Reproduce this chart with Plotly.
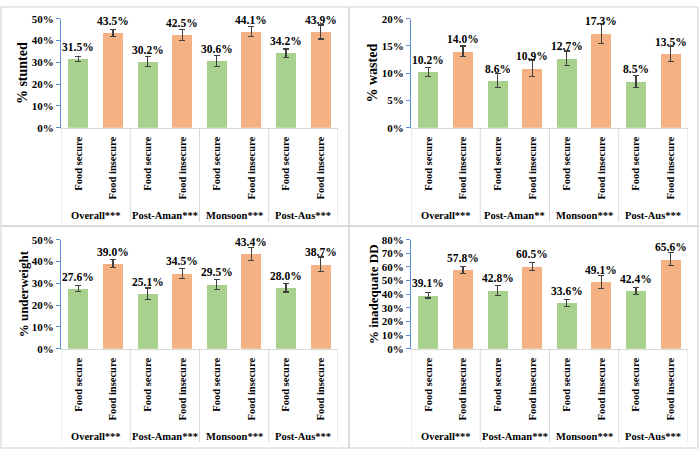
import plotly.graph_objects as go

# ---------------- data ----------------
sub_labels = ["Food secure", "Food insecure"]

stunted_groups = ["Overall***", "Post-Aman***", "Monsoon***", "Post-Aus***"]
stunted_secure = [31.5, 30.2, 30.6, 34.2]
stunted_insecure = [43.5, 42.5, 44.1, 43.9]
stunted_secure_err = [1.3, 2.3, 2.4, 1.9]
stunted_insecure_err = [1.7, 2.4, 2.3, 3.2]

wasted_groups = ["Overall***", "Post-Aman**", "Monsoon***", "Post-Aus***"]
wasted_secure = [10.2, 8.6, 12.7, 8.5]
wasted_insecure = [14.0, 10.9, 17.3, 13.5]
wasted_secure_err = [0.8, 1.3, 1.35, 1.1]
wasted_insecure_err = [1.0, 1.5, 1.8, 1.4]

underweight_groups = ["Overall***", "Post-Aman***", "Monsoon***", "Post-Aus***"]
underweight_secure = [27.6, 25.1, 29.5, 28.0]
underweight_insecure = [39.0, 34.5, 43.4, 38.7]
underweight_secure_err = [1.3, 2.7, 2.2, 2.0]
underweight_insecure_err = [1.8, 2.3, 3.0, 3.4]

dd_groups = ["Overall***", "Post-Aman***", "Monsoon***", "Post-Aus***"]
dd_secure = [39.1, 42.8, 33.6, 42.4]
dd_insecure = [57.8, 60.5, 49.1, 65.6]
dd_secure_err = [1.9, 3.7, 2.7, 2.5]
dd_insecure_err = [2.4, 3.0, 4.8, 4.8]

y_titles = ["% stunted", "% wasted", "% underweight", "% inadequate DD"]
y_max = [50, 20, 50, 80]
y_dtick = [10, 5, 10, 10]

# ---------------- styling ----------------
W, H = 700, 455
FONT = "Liberation Serif"
GREEN = "#A9D18E"
ORANGE = "#F4B183"
AXIS_BLUE = "#5B8FD9"
GRID_GRAY = "#D9D9D9"
ERR = "#404040"

panels = [
    (stunted_groups, stunted_secure, stunted_insecure, stunted_secure_err, stunted_insecure_err),
    (wasted_groups, wasted_secure, wasted_insecure, wasted_secure_err, wasted_insecure_err),
    (underweight_groups, underweight_secure, underweight_insecure, underweight_secure_err, underweight_insecure_err),
    (dd_groups, dd_secure, dd_insecure, dd_secure_err, dd_insecure_err),
]

# pixel geometry of each plot area: (left, right, top, bottom)
areas = [(61, 338, 13, 125), (411, 688, 13, 125), (61, 338, 240, 352), (411, 688, 240, 352)]
sep_bottom = [222, 222, 448, 448]
group_label_y = [215, 215, 442, 442]
title_sizes = [14, 14, 13, 13]

fig = go.Figure()
layout = {}
shapes = []
annotations = []

for i, (groups, sec, ins, sec_e, ins_e) in enumerate(panels):
    n = i + 1
    xa = "x" if n == 1 else f"x{n}"
    ya = "y" if n == 1 else f"y{n}"
    l, r, t, b = areas[i]
    xs_sec = [2 * k for k in range(len(groups))]
    xs_ins = [2 * k + 1 for k in range(len(groups))]

    for xs, vals, errs, col in [(xs_sec, sec, sec_e, GREEN), (xs_ins, ins, ins_e, ORANGE)]:
        fig.add_trace(go.Bar(
            x=xs, y=vals, xaxis=xa, yaxis=ya,
            marker=dict(color=col, line=dict(width=0)),
            width=0.58,
            error_y=dict(type="data", array=errs, visible=True, color=ERR, thickness=1.2, width=3),
            showlegend=False,
            hoverinfo="skip",
        ))
        for xv, v in zip(xs, vals):
            annotations.append(dict(text=f"{v:.1f}%", xref=xa, yref=ya, x=xv, y=v,
                                    showarrow=False, xanchor="center", yanchor="bottom", yshift=4,
                                    font=dict(family=FONT, size=11.5, color="black", weight="bold")))

    tickvals = list(range(2 * len(groups)))
    ticktext = sub_labels * len(groups)
    layout["xaxis" if n == 1 else f"xaxis{n}"] = dict(
        domain=[l / W, r / W], anchor=ya,
        range=[-0.5, 2 * len(groups) - 0.5],
        tickvals=tickvals, ticktext=ticktext, tickangle=-90,
        tickfont=dict(family=FONT, size=10.5, color="black", weight="bold"),
        showline=True, linecolor=GRID_GRAY, linewidth=1,
        showgrid=False, zeroline=False, ticks="", ticklabelstandoff=4,
        fixedrange=True,
    )
    layout["yaxis" if n == 1 else f"yaxis{n}"] = dict(
        domain=[1 - b / H, 1 - t / H], anchor=xa,
        range=[0, y_max[i]], dtick=y_dtick[i], ticksuffix="%",
        tickfont=dict(family=FONT, size=11, color="black", weight="bold"),
        showline=True, linecolor=AXIS_BLUE, linewidth=1,
        ticks="outside", ticklen=4, tickcolor=AXIS_BLUE,
        showgrid=False, zeroline=False,
        title=dict(text=y_titles[i], font=dict(family=FONT, size=title_sizes[i], color="black", weight="bold"), standoff=0),
        fixedrange=True,
    )

    depth = (sep_bottom[i] - b) / (b - t)
    for sx in [-0.5 + 2 * k for k in range(len(groups) + 1)]:
        shapes.append(dict(type="line", xref=xa, yref=f"{ya} domain", x0=sx, x1=sx, y0=-depth, y1=0,
                           line=dict(color=GRID_GRAY, width=1)))
    gy = -(group_label_y[i] - b) / (b - t)
    for k, g in enumerate(groups):
        annotations.append(dict(text=g, xref=xa, yref=f"{ya} domain", x=2 * k + 0.5, y=gy,
                                showarrow=False, xanchor="center", yanchor="middle",
                                font=dict(family=FONT, size=10.5, color="black", weight="bold")))

# panel borders
for (x0, x1, y0, y1) in [(1, 349, 1, 226), (349, 698, 1, 226), (1, 349, 226, 454), (349, 698, 226, 454)]:
    shapes.append(dict(type="rect", xref="paper", yref="paper", x0=x0 / W, x1=x1 / W,
                       y0=1 - y1 / H, y1=1 - y0 / H, line=dict(color="#D0D0D0", width=1)))

fig.update_layout(
    width=W, height=H,
    margin=dict(l=0, r=0, t=0, b=0),
    paper_bgcolor="white", plot_bgcolor="white",
    shapes=shapes, annotations=annotations,
    bargap=0, showlegend=False,
    **layout,
)

fig.write_html("out.html", config={"displayModeBar": False},
               post_script="document.body.style.margin='0';document.body.style.padding='0';")
